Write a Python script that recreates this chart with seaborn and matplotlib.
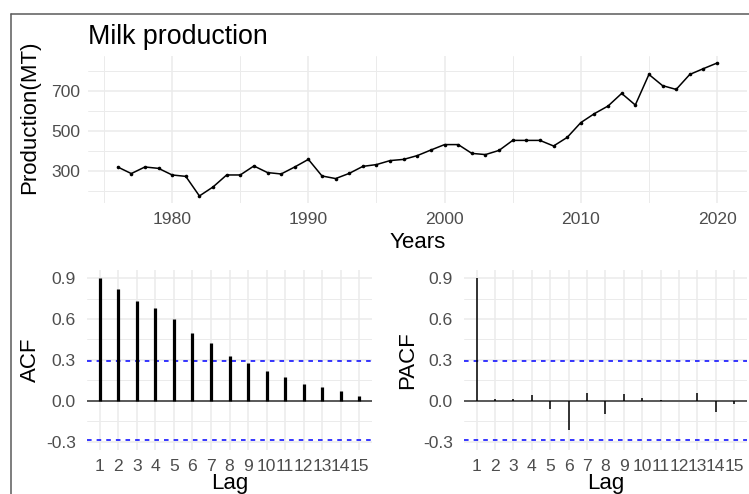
import matplotlib
matplotlib.use("Agg")
import matplotlib.pyplot as plt
import seaborn as sns
import pandas as pd
from matplotlib.lines import Line2D

# Annual milk production (MT)
years = list(range(1976, 2021))
production = [320, 287, 320, 313, 280, 273, 175, 220, 280, 280,
              325, 292, 285, 320, 358, 275, 262, 288, 323, 332,
              352, 358, 377, 405, 432, 432, 388, 382, 403, 453,
              453, 453, 425, 468, 542, 587, 625, 688, 630, 783,
              727, 708, 783, 812, 840]

# Autocorrelation and partial autocorrelation by lag
lags = list(range(1, 16))
acf_vals = [0.900, 0.818, 0.732, 0.678, 0.602, 0.500, 0.424, 0.331,
            0.274, 0.218, 0.174, 0.125, 0.100, 0.069, 0.034]
pacf_vals = [0.900, 0.010, 0.010, 0.040, -0.060, -0.218, 0.059, -0.098,
             0.049, 0.022, 0.002, 0.001, 0.059, -0.081, -0.022]
conf_bound = 0.292

sns.set_theme(style="white")
plt.rcParams["font.family"] = ["Liberation Sans", "DejaVu Sans"]

W, H = 749, 494
fig = plt.figure(figsize=(W / 100, H / 100), dpi=100)


def axes_px(x0, y0, x1, y1):
    return fig.add_axes([x0 / W, 1 - y1 / H, (x1 - x0) / W, (y1 - y0) / H])


GRID = "#EBEBEB"
TICK = "#4D4D4D"
TICK_SIZE = 12.6
TITLE_SIZE = 16


def style(ax, xmaj, xmin, ymaj, ymin, xpad, ypad):
    ax.set_facecolor("white")
    for s in ax.spines.values():
        s.set_visible(False)
    ax.set_xticks(xmaj)
    ax.set_xticks(xmin, minor=True)
    ax.set_yticks(ymaj)
    ax.set_yticks(ymin, minor=True)
    ax.grid(True, which="major", color=GRID, linewidth=1.1)
    ax.grid(True, which="minor", color=GRID, linewidth=0.7)
    ax.set_axisbelow(True)
    ax.tick_params(which="both", length=0, labelsize=TICK_SIZE, labelcolor=TICK)
    ax.tick_params(axis="x", pad=xpad)
    ax.tick_params(axis="y", pad=ypad)


# ---- Time series panel ----
ax1 = axes_px(87.7, 56.4, 747, 202.6)
df = pd.DataFrame({"Years": years, "Production": production})
sns.lineplot(data=df, x="Years", y="Production", ax=ax1, color="black",
             linewidth=1.1, marker="o", markersize=2.6, markeredgewidth=0)
ax1.set_xlim(1973.8, 2022.2)
ax1.set_ylim(141.75, 873.25)
style(ax1, [1980, 1990, 2000, 2010, 2020], [1975, 1985, 1995, 2005, 2015],
      [300, 500, 700], [200, 400, 600, 800], xpad=6.5, ypad=5.5)
ax1.set_xlabel("Years", fontsize=TITLE_SIZE, color="black")
ax1.xaxis.label.set_va("center")
ax1.xaxis.set_label_coords(0.5, -0.27)
ax1.set_ylabel("Production(MT)", fontsize=TITLE_SIZE, color="black")
ax1.yaxis.label.set_va("center")
ax1.yaxis.set_label_coords(-0.0875, 0.585)
ax1.text(0.0005, 1.133, "Milk production", transform=ax1.transAxes,
         fontsize=19.3, color="black", ha="left", va="center")


def corr_panel(x0, x1, values, width, label):
    ax = axes_px(x0, 270, x1, 449.7)
    ax.axhline(0, color="#4D4D4D", linewidth=1.3, zorder=2)
    ax.vlines(lags, 0, values, color="black", linewidth=width, zorder=3)
    for b in (conf_bound, -conf_bound):
        ax.axhline(b, color="blue", linewidth=1.1, linestyle=(0, (3, 3.3)),
                   zorder=2)
    ax.set_xlim(0.3, 15.7)
    ax.set_ylim(-0.36, 0.96)
    style(ax, lags, [], [-0.3, 0.0, 0.3, 0.6, 0.9],
          [-0.15, 0.15, 0.45, 0.75], xpad=7, ypad=8)
    ax.set_xticklabels([str(l) for l in lags])
    ax.set_yticklabels(["-0.3", "0.0", "0.3", "0.6", "0.9"])
    ax.set_xlabel("Lag", fontsize=TITLE_SIZE, color="black")
    ax.xaxis.label.set_va("bottom")
    ax.xaxis.set_label_coords(0.5, -0.247)
    ax.set_ylabel(label, fontsize=TITLE_SIZE, color="black")
    ax.yaxis.label.set_va("center")
    ax.yaxis.set_label_coords(-0.2, 0.5)
    return ax


corr_panel(87, 372, acf_vals, 2.3, "ACF")
corr_panel(463.8, 747, pacf_vals, 1.1, "PACF")

# Frame lines along the top and left edges
fig.add_artist(Line2D([10.5 / W, 1], [1 - 14 / H, 1 - 14 / H],
                      transform=fig.transFigure, color="#5A5A5A", linewidth=1.1))
fig.add_artist(Line2D([10.5 / W, 10.5 / W], [0, 1 - 14 / H],
                      transform=fig.transFigure, color="#5A5A5A", linewidth=1.1))

fig.savefig("out.png", dpi=100, facecolor="white")
